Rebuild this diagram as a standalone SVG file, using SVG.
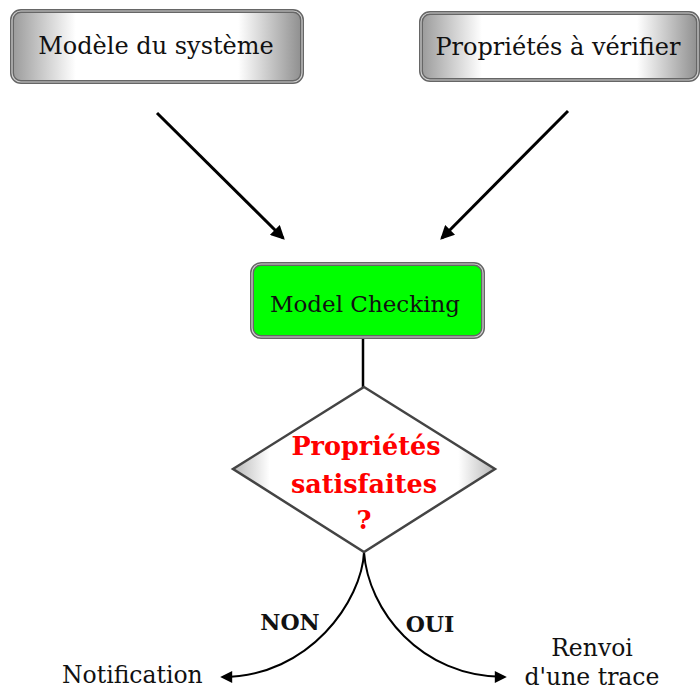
<svg xmlns="http://www.w3.org/2000/svg" width="700" height="690" viewBox="0 0 700 690">
  <style>
    text { font-family: "DejaVu Serif", "Liberation Serif", serif; fill: #111; }
    .lbl { font-size: 24px; text-anchor: middle; }
    .q { font-size: 25.5px; font-weight: bold; fill: #ff0000; text-anchor: middle; }
    .b { font-size: 22px; font-weight: bold; }
    .out { font-size: 23.5px; }
    .frame { stroke: #666; stroke-width: 4; }
    .frame2 { fill: none; stroke: #d0d0d0; stroke-width: 1.2; }
    .conn { fill: none; stroke: #000; }
  </style>
  <defs>
    <linearGradient id="grey" x1="0" y1="0" x2="1" y2="0">
      <stop offset="0" stop-color="#9a9a9a"/>
      <stop offset="0.22" stop-color="#ffffff"/>
      <stop offset="0.78" stop-color="#ffffff"/>
      <stop offset="1" stop-color="#8e8e8e"/>
    </linearGradient>
    <linearGradient id="dia" x1="0" y1="0" x2="1" y2="0">
      <stop offset="0" stop-color="#b8b8b8"/>
      <stop offset="0.14" stop-color="#ffffff"/>
      <stop offset="0.86" stop-color="#ffffff"/>
      <stop offset="1" stop-color="#b8b8b8"/>
    </linearGradient>
    <marker id="ah" viewBox="0 0 10 10" refX="8.5" refY="5" markerWidth="16" markerHeight="14" markerUnits="userSpaceOnUse" orient="auto">
      <path d="M0,0 L10,5 L0,10 z" fill="#000"/>
    </marker>
    <marker id="ah2" viewBox="0 0 10 10" refX="8.5" refY="5" markerWidth="14" markerHeight="12" markerUnits="userSpaceOnUse" orient="auto">
      <path d="M0,0 L10,5 L0,10 z" fill="#000"/>
    </marker>
  </defs>

  <g id="connectors">
    <line class="conn" x1="157" y1="113" x2="283.3" y2="238.3" stroke-width="3" marker-end="url(#ah)"/>
    <line class="conn" x1="568" y1="111" x2="441.7" y2="238.3" stroke-width="3" marker-end="url(#ah)"/>
    <line class="conn" x1="363" y1="337" x2="363" y2="387" stroke-width="2.5"/>
    <path class="conn" d="M364,552 C362,600 310,677 222,677" stroke-width="2" marker-end="url(#ah2)"/>
    <path class="conn" d="M364,552 C368,610 420,677 505,677" stroke-width="2" marker-end="url(#ah2)"/>
    <text class="b" x="290" y="630" text-anchor="middle">NON</text>
    <text class="b" x="430" y="632" text-anchor="middle">OUI</text>
  </g>

  <g id="modele">
    <rect class="frame" x="12" y="11" width="290" height="71" rx="9" fill="url(#grey)"/>
    <rect class="frame2" x="12" y="11" width="290" height="71" rx="9"/>
    <text class="lbl" x="156" y="54">Modèle du système</text>
  </g>

  <g id="proprietes">
    <rect class="frame" x="421" y="13" width="277" height="67" rx="9" fill="url(#grey)"/>
    <rect class="frame2" x="421" y="13" width="277" height="67" rx="9"/>
    <text class="lbl" x="558" y="55">Propriétés à vérifier</text>
  </g>

  <g id="model-checking">
    <rect class="frame" x="252" y="264" width="231" height="73" rx="9" fill="#00ff00"/>
    <rect class="frame2" x="252" y="264" width="231" height="73" rx="9"/>
    <text class="lbl" x="365" y="312" style="font-size:23px">Model Checking</text>
  </g>

  <g id="decision">
    <polygon points="364,387 495,469 364,552 233,469" fill="url(#dia)" stroke="#444" stroke-width="2.5" stroke-linejoin="miter"/>
    <text class="q" x="366" y="455">Propriétés</text>
    <text class="q" x="364" y="493">satisfaites</text>
    <text class="q" x="364" y="529">?</text>
  </g>

  <g id="notification">
    <text class="out" x="62" y="683">Notification</text>
  </g>

  <g id="renvoi">
    <text class="out" x="592" y="656" text-anchor="middle">Renvoi</text>
    <text class="out" x="592" y="685" text-anchor="middle">d'une trace</text>
  </g>
</svg>
